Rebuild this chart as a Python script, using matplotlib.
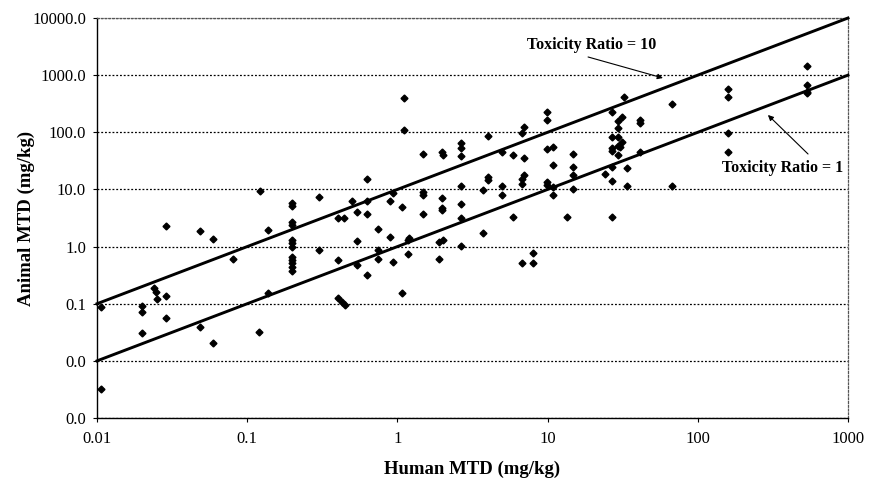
import numpy as np
import matplotlib
matplotlib.use("Agg")
import matplotlib.pyplot as plt

plt.rcParams['font.family'] = ['Liberation Serif', 'DejaVu Serif']

# human MTD (mg/kg) vs animal MTD (mg/kg)
human = [0.0107, 0.0107, 0.0198, 0.0198, 0.0198, 0.024, 0.0246, 0.025, 0.0288, 0.0288,
         0.0288, 0.0485, 0.0485, 0.0595, 0.0595, 0.080, 0.119, 0.122, 0.138, 0.138,
         0.2, 0.2, 0.2, 0.2, 0.2, 0.2, 0.2, 0.2, 0.2, 0.2, 0.2, 0.2,
         0.3, 0.3, 0.4, 0.44, 0.4, 0.4, 0.43, 0.45, 0.5, 0.536, 0.536, 0.536,
         0.63, 0.63, 0.63, 0.63, 0.746, 0.746, 0.746, 0.89, 0.89, 0.94, 0.94,
         1.07, 1.07, 1.1, 1.1, 1.18, 1.2, 1.18, 1.47, 1.47, 1.47, 1.47,
         1.9, 1.9, 1.97, 2.0, 1.97, 1.97, 1.97, 2.0,
         2.65, 2.65, 2.65, 2.65, 2.65, 2.65, 2.65, 3.73, 3.73, 4.0, 4.0, 4.0,
         4.95, 4.95, 4.95, 5.9, 5.9, 6.72, 6.97, 6.97, 6.97, 6.72, 6.72, 6.72,
         8.03, 8.03, 9.86, 9.86, 9.86, 9.86, 9.86, 10.9, 10.9, 10.9, 10.9,
         13.4, 14.8, 14.8, 14.8, 14.8, 24.1, 26.7, 26.7, 26.7, 26.7, 26.7, 26.7, 26.7,
         29.6, 29.6, 29.6, 29.6, 29.6, 31.5, 31.5, 30.5, 32.3, 34, 34,
         41.2, 41.2, 41.2, 67, 67, 160, 160, 160, 160, 536, 536, 536, 536]
animal = [0.0865, 0.00318, 0.0923, 0.0708, 0.0307, 0.186, 0.162, 0.121, 2.29, 0.136,
          0.0569, 1.90, 0.0396, 1.34, 0.0208, 0.607, 0.0324, 9.58, 1.95, 0.152,
          5.72, 5.13, 2.69, 2.34, 1.30, 1.14, 0.995, 0.665, 0.582, 0.510, 0.445, 0.378,
          7.46, 0.871, 3.13, 3.13, 0.594, 0.124, 0.108, 0.095, 6.28, 3.98, 1.27, 0.467,
          15.0, 6.2, 3.72, 0.322, 2.0, 0.889, 0.607, 6.28, 1.49, 8.77, 0.543,
          4.87, 0.156, 402, 110, 0.756, 1.40, 1.30, 41.2, 9.2, 8.1, 3.76,
          1.22, 0.607, 45.7, 40.1, 7.0, 4.73, 4.37, 1.30,
          64, 52.5, 38.9, 11.7, 5.63, 3.16, 1.02, 9.78, 1.71, 87, 16.7, 14.8,
          45.7, 11.5, 8.0, 40.1, 3.29, 97.2, 125, 36.2, 17.9, 15.5, 12.4, 0.516,
          0.762, 0.516, 229, 164, 51, 13.6, 12.0, 56.4, 26.8, 8.15, 11.0,
          3.33, 41.7, 24.7, 17.9, 9.98, 18.6, 224, 83.8, 52.5, 48, 24.4, 14.2, 3.25,
          160, 117, 83.8, 57.5, 40.1, 188, 68.5, 56, 415, 23.4, 11.5,
          167, 147, 45.7, 313, 11.5, 565, 410, 96, 45.7, 1465, 673, 514, 482]

line_x = [0.01, 1000]
ratios = [1, 10]

xticks = [0.01, 0.1, 1, 10, 100, 1000]
xlabels = ["0.01", "0.1", "1", "10", "100", "1000"]
yticks = [0.001, 0.01, 0.1, 1, 10, 100, 1000, 10000]
ylabels = ["0.0", "0.0", "0.1", "1.0", "10.0", "100.0", "1000.0", "10000.0"]

fig = plt.figure(figsize=(8.7, 4.79), dpi=100)
ax = fig.add_axes([0.1115, 0.1273, 0.8632, 0.8351])

for r in ratios:
    ax.plot(line_x, [v * r for v in line_x], color="black", lw=2.1, zorder=3,
            clip_on=False)

ax.plot(human, animal, linestyle="none", marker="D", markersize=3.5,
        color="black", zorder=4)

ax.set_xscale("log")
ax.set_yscale("log")
ax.set_xlim(0.01, 1000)
ax.set_ylim(0.001, 10000)
ax.set_xticks(xticks)
ax.set_xticklabels(xlabels)
ax.set_yticks(yticks)
ax.set_yticklabels(ylabels)
ax.minorticks_off()
ax.tick_params(labelsize=12, length=3, width=0.8, direction="out")
ax.tick_params(axis="x", pad=6)
ax.tick_params(axis="y", pad=5)

ax.grid(axis="y", color="black", linestyle=(0, (1.5, 1.5)), lw=0.9)
for s in ["top", "right"]:
    ax.spines[s].set_linestyle((0, (1.5, 1.5)))
    ax.spines[s].set_color("#555555")
    ax.spines[s].set_linewidth(0.9)
ax.spines["left"].set_linewidth(1.0)
ax.spines["bottom"].set_linewidth(1.0)

ax.set_xlabel("Human MTD (mg/kg)", fontsize=13.5, fontweight="bold", labelpad=10)
ax.set_ylabel("Animal MTD (mg/kg)", fontsize=13.5, fontweight="bold", labelpad=-2)

ax.text(7.3, 3375, "Toxicity Ratio = 10", fontsize=11.5, fontweight="bold",
        ha="left", va="center")
ax.annotate("", xy=(58.6, 891), xytext=(18.6, 2080),
            arrowprops=dict(arrowstyle="-|>", color="black", lw=0.8,
                            mutation_scale=8, shrinkA=0, shrinkB=0))
ax.text(927, 23.7, "Toxicity Ratio = 1", fontsize=11.5, fontweight="bold",
        ha="right", va="center")
ax.annotate("", xy=(293, 201), xytext=(542, 41.7),
            arrowprops=dict(arrowstyle="-|>", color="black", lw=0.8,
                            mutation_scale=8, shrinkA=0, shrinkB=0))

fig.savefig("out.png", dpi=100)
